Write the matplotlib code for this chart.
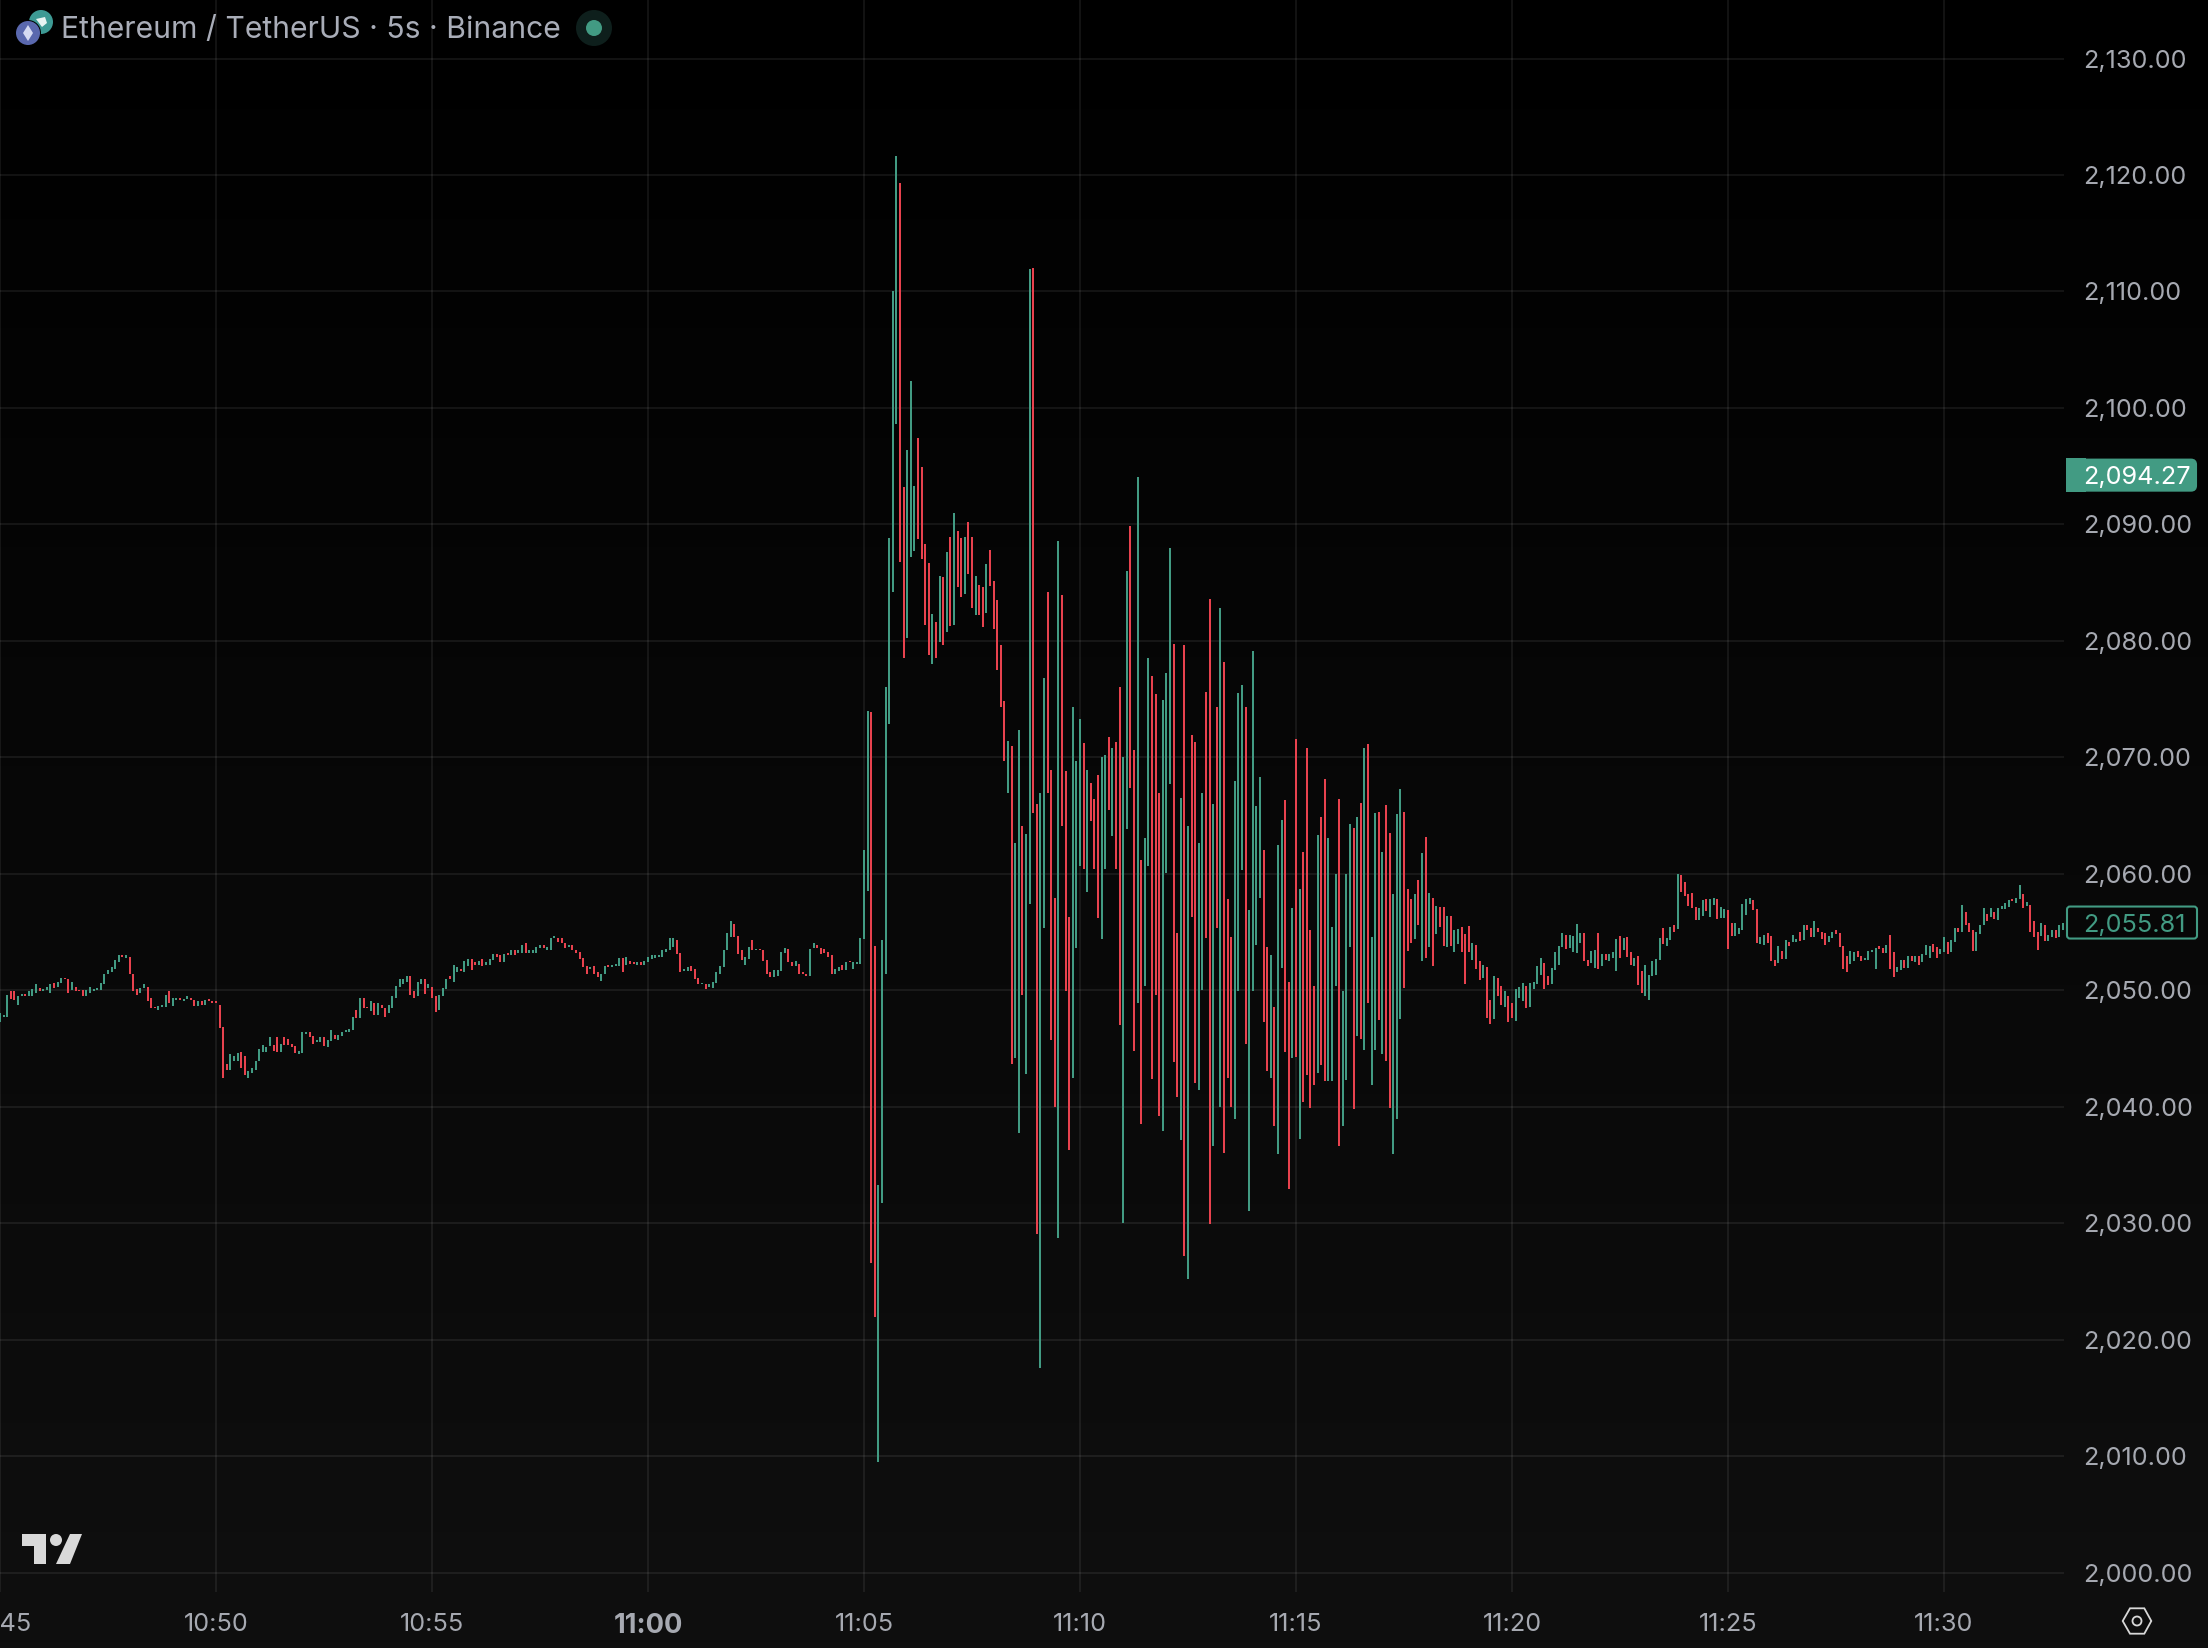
import numpy as np
import matplotlib
matplotlib.use('Agg')
import matplotlib.pyplot as plt
from matplotlib.patches import Circle, Polygon, Rectangle, FancyBboxPatch

plt.rcParams['font.family'] = ['Inter', 'DejaVu Sans']

# candles are (open, close), written as price minus PRICE_BASE
PRICE_BASE = 2000
bars_before = [
(47.31,48.05),(47.74,47.91),(47.74,49.63),(49.89,49.26),(49.89,49.17),(48.77,49.54),(49.54,49.71),(49.71,49.54),(49.54,49.97),(49.54,50.14),
(49.80,50.49),(50.23,49.89),(49.97,50.14),(50.06,50.31),(49.80,50.49),(50.66,50.23),(50.31,50.74),(50.66,51.09),(51.09,50.92),(51.00,49.80),
(50.06,50.74),(50.31,49.89),(50.06,49.89),(50.06,49.54),(49.54,50.06),(49.80,50.31),(49.97,50.14),(50.06,50.23),(50.06,50.66),(50.49,51.43),
(51.35,51.77),(51.52,51.95),(51.86,52.63),(52.46,52.98),(53.06,52.89),(52.80,52.98),(52.89,51.35),(51.43,49.97),(50.14,49.63),(49.80,50.23),
(50.23,50.57),(50.31,49.03),(49.37,48.43),(48.60,48.43),(48.34,48.68),(48.60,48.77),(48.60,49.63),(49.89,48.86),(48.68,49.37),(49.20,49.37),
(49.37,49.20),(49.11,49.28),(49.28,49.46),(49.37,49.20),(49.20,48.68),(48.68,49.03),(49.03,48.77),(48.77,49.20),(49.28,49.11),(49.11,48.94),
(49.11,48.86),(48.77,46.79),(46.88,42.42),(43.70,43.19),(43.19,44.48),(43.96,44.39),(43.88,44.65),(44.73,43.36),(44.39,42.76),(42.42,43.10),
(42.93,43.36),(43.19,43.96),(43.88,44.99),(44.73,45.33),(44.73,45.16),(45.25,46.02),(45.33,44.82),(46.02,44.73),(44.73,45.42),(45.94,45.33),
(45.85,45.33),(45.42,45.08),(45.25,44.65),(44.56,44.82),(44.65,46.37),(46.28,46.45),(46.37,46.02),(46.11,45.42),(45.59,45.76),(45.59,46.02),
(46.02,45.25),(45.08,45.76),(45.68,46.54),(46.19,45.85),(45.76,46.19),(46.11,46.37),(46.45,46.62),(46.45,46.71),(46.62,47.74),(48.34,47.65),
(47.57,49.37),(49.37,48.43),(48.60,48.43),(48.25,49.11),(48.86,47.91),(47.91,48.94),(48.77,48.43),(48.51,47.74),(48.00,48.77),(48.51,49.46),
(49.37,50.40),(50.31,50.92),(50.49,50.92),(50.74,51.26),(51.26,49.63),(49.97,49.37),(49.54,50.74),(50.49,51.00),(51.00,49.71),(50.23,50.49),
(50.31,49.37),(49.46,48.17),(48.34,49.63),(49.54,50.23),(50.14,51.00),(51.26,50.92),(50.74,52.20),(51.52,51.95),(51.86,51.69),(51.60,52.55),
(52.12,52.72),(52.72,51.77),(52.46,52.20),(52.20,52.55),(52.72,52.12),(52.20,52.38),(52.20,52.72),(52.63,53.15),(53.15,52.89),
(52.98,52.38),(52.46,53.15),(53.23,53.06),(53.06,53.41),(53.41,53.06),(53.23,53.41),(53.23,53.84),(54.09,53.23),(53.23,53.41),(53.23,53.41),
(53.23,53.75),(53.66,53.84),(53.84,53.66),(53.49,53.75),(53.49,54.44),(54.52,54.69),(54.52,54.18),(54.52,54.01),(54.09,53.66),(53.75,53.92),
(53.84,53.41),(53.49,53.23),(53.32,52.72),(52.80,51.95),(52.12,51.35),(51.86,52.03),(52.12,51.43),(51.52,51.17),(50.83,51.43),(51.35,52.12),
(52.20,51.95),(52.03,52.20),(52.12,52.29),(52.12,52.80),(52.80,51.60),(52.20,52.89),(52.55,52.29),(52.46,52.29),(52.20,52.38),(52.38,52.20),
(52.20,52.55),(52.46,52.89),(52.72,52.98),(52.80,52.98),(52.89,53.06),(52.89,53.41),(53.32,53.58),(53.41,54.52),(53.75,54.44),(54.35,53.15),
(53.23,51.60),(51.69,51.86),(51.69,52.03),(52.12,51.69),(51.86,51.00),(51.09,50.49),(50.49,50.66),(50.57,50.14),(50.31,50.49),(50.23,50.74),
(50.66,51.52),(51.43,52.12),(52.03,53.49),(53.41,54.95),(54.61,55.90),(55.72,54.61),(54.69,53.15),(53.49,52.63),(52.20,52.89),(52.72,53.75),
(54.35,53.41),(53.41,53.58),(53.58,53.41),(53.49,52.55),(52.63,51.43),(51.52,51.17),(51.17,51.77),(51.26,51.77),(51.69,53.32),(53.23,53.66),
(53.58,52.38),(52.46,52.12),(52.12,52.55),(52.29,51.35),(51.52,51.35),(51.43,51.26),(51.26,53.58),(53.66,54.09),(53.84,53.66),(53.66,53.15),
(53.58,53.23),(53.32,52.89),(52.98,51.35),(51.35,51.86),(51.69,52.03),(52.20,51.77),(51.77,52.46),(52.55,52.38),(51.86,52.46),(52.29,52.46),
(52.29,54.52),
]
bars_spike = [
(54.4,62.0),(58.5,74.0),(73.9,26.6),(53.8,21.9),(9.5,33.3),(31.7,54.3),(51.4,76.0),(72.9,88.8),(84.2,110.0),(98.6,121.6),
(119.3,86.8),(93.2,78.5),(80.2,96.4),(87.2,102.3),(87.7,93.3),(97.4,88.7),(94.9,87.0),(88.3,81.4),(86.7,78.8),(78.0,82.3),
(81.6,78.5),(79.9,85.6),(85.5,79.6),(80.8,87.6),(88.9,81.3),(81.4,91.0),(89.4,84.6),(88.8,83.8),(84.0,88.9),(90.2,85.7),
(88.9,82.8),(82.2,85.6),(84.8,82.2),(84.6,81.2),(82.4,86.6),(87.8,84.7),(85.1,81.0),(83.5,77.5),(79.6,74.3),(74.8,69.7),
(66.9,71.4),(71.0,43.7),(44.2,62.6),(37.7,72.3),(64.1,49.6),(42.8,63.4),(57.4,111.9),(112.0,65.2),(66.0,29.1),(17.6,66.9),
(55.3,76.8),(84.2,66.9),(68.9,45.7),(57.9,40.0),(28.7,88.6),(83.9,64.1),(68.8,49.9),(56.3,36.3),(42.5,74.3),(53.6,69.7),
(60.7,73.3),(71.2,60.4),(58.4,68.9),(67.8,64.5),(66.4,60.4),(68.5,56.2),(54.4,70.0),(60.4,70.2),(71.7,65.5),(63.2,70.8),
(71.3,60.4),(76.0,47.0),(30.0,70.0),(63.8,86.0),(89.9,67.4),(70.6,44.8),(48.9,94.1),(61.2,38.5),(50.4,63.1),(60.7,78.5),
(77.0,42.4),(75.4,49.6),(66.9,39.2),(37.9,74.9),(60.1,77.2),(67.7,88.0),(79.7,43.8),(54.9,40.8),(37.1,66.5),(79.6,27.2),
(25.2,64.1),(71.9,56.3),(71.3,42.0),(41.4,62.6),(50.0,66.9),(75.6,54.5),(83.6,29.9),(36.6,66.0),(74.3,55.3),(40.0,82.8),
(78.2,36.0),(57.8,42.5),(54.6,40.0),(38.9,68.0),(49.9,75.5),
(60.3,76.2),(74.3,45.4),(31.0,56.9),(49.9,79.1),(53.9,65.8),(57.9,68.3),(62.0,47.3),(53.7,43.1),(42.5,53.0),(48.6,38.3),
(35.9,62.5),(51.9,64.6),(66.3,44.7),(50.7,32.9),(44.2,57.1),(71.6,44.3),(37.2,58.7),(61.9,40.4),(70.8,42.7),(55.2,39.9),
(50.4,41.9),(42.9,63.3),(64.9,43.6),(68.1,42.2),(42.2,63.1),(42.2,55.4),(50.4,60.0),(66.4,36.6),(38.3,49.9),(42.3,60.0),
(53.7,64.3),(63.9,39.8),(46.1,64.9),(66.1,45.8),(44.9,70.8),(71.1,48.9),(41.9,54.6),(44.9,65.2),(65.3,47.4),(44.5,61.9),
(65.9,43.9),(63.5,39.9),(35.9,58.3),(38.9,65.1),(47.5,67.3),(65.3,50.2),(58.7,53.4),(57.83,54.07),(54.42,58.26),(59.46,55.61),
]
bars_after = [
(52.54,61.77),(63.13,52.79),(53.73,58.35),(57.92,52.11),(54.84,57.24),(57.15,55.44),(57.15,53.82),(53.73,56.38),(56.38,53.82),(53.30,55.19),
(53.99,55.27),(55.44,53.30),(54.84,50.57),(55.53,53.30),(52.62,54.07),(53.90,51.85),(52.54,50.91),(51.08,52.19),(52.02,47.58),(49.12,47.07),
(47.49,51.25),(51.08,49.54),(50.40,48.69),(48.60,49.89),(49.54,47.24),(48.86,47.58),(47.32,50.14),(49.29,50.31),(49.03,50.66),(50.40,48.43),
(48.52,50.66),(50.14,50.74),(50.57,52.11),(51.34,52.79),(52.36,50.14),(51.25,50.48),(50.57,51.94),(51.77,53.30),(52.19,53.82),(53.73,54.93),
(54.76,53.56),(53.65,54.76),(53.30,54.67),(53.22,55.70),(54.07,54.93),(54.93,52.54),(52.62,52.11),(52.36,53.39),(51.94,53.48),(54.93,51.85),
(52.11,53.13),(53.13,52.62),(52.54,53.13),(52.79,53.30),(51.68,54.42),(54.67,52.79),(53.48,54.50),(54.59,52.88),(53.30,52.19),(52.11,52.79),
(52.96,50.48),(51.68,49.72),(49.54,52.19),(49.20,51.34),(51.25,52.54),(51.34,52.71),(52.62,54.50),(55.36,53.99),(53.82,54.50),(54.33,55.44),
(55.61,55.01),(55.27,59.97),(59.89,58.43),(59.29,58.09),(58.26,57.24),(58.35,57.07),(57.15,56.04),(56.04,57.07),(56.38,57.75),(57.83,56.81),
(56.30,57.83),(57.32,57.92),(57.83,56.13),(56.21,57.15),(56.21,56.98),(56.89,53.56),
(55.81,54.62),(54.62,55.73),(54.79,55.30),(55.13,57.44),(56.50,57.86),(57.44,57.95),(57.78,56.92),(57.01,54.02),(53.93,54.53),(53.85,54.70),
(54.87,54.02),(54.62,52.48),(52.56,52.05),(52.31,53.76),(53.33,52.65),(52.65,54.27),(54.10,53.76),(54.10,54.70),(54.10,54.36),(55.04,54.19),
(54.27,55.64),(55.64,55.21),(55.30,54.53),(54.53,55.90),(55.38,54.96),(55.04,54.36),(54.87,53.85),(54.10,54.62),(54.44,55.04),(55.13,54.79),
(54.87,53.68),(53.76,51.79),(52.91,51.54),(52.22,53.33),(52.48,53.25),(53.33,52.82),(52.91,52.48),(52.56,52.74),(52.56,53.33),(53.25,53.42),
(51.79,53.59),(53.76,53.50),(53.59,53.16),(53.16,53.85),(54.70,51.79),(53.25,51.11),(51.54,51.97),(51.71,52.56),(52.56,51.88),(51.88,52.91),
(52.91,52.48),(52.39,52.91),(52.91,52.14),(52.39,53.08),(52.99,53.85),(52.74,53.76),(53.93,53.25),(53.68,52.74),(53.08,53.50),(53.25,54.53),
(54.10,53.08),(53.25,54.27),(54.10,55.38),(55.38,54.96),(54.96,57.35),(56.75,55.56),(55.73,55.04),(55.13,53.33),(53.33,54.96),(54.79,55.64),
(55.64,57.09),(56.58,55.90),(56.32,57.09),(56.75,56.15),(56.07,57.09),(57.01,57.26),(57.01,57.52),(57.18,57.78),(57.86,57.69),(57.52,57.95),
(57.86,59.06),(58.29,57.09),(57.26,57.61),(57.35,54.96),(55.98,54.53),(54.96,53.42),(54.62,55.73),(55.64,54.19),(54.19,54.70),(54.53,55.21),
(55.21,54.44),(54.53,55.56),(55.21,55.81),
]

price_ticks = [2000, 2010, 2020, 2030, 2040, 2050, 2060, 2070, 2080, 2090, 2100, 2110, 2120, 2130]
time_ticks = [0, 60, 120, 180, 240, 300, 360, 420, 480, 540]  # bars, 5s each
time_labels = ['10:45', '10:50', '10:55', '11:00', '11:05', '11:10', '11:15', '11:20', '11:25', '11:30']
high_price = 2094.27
last_price = 2055.81
title = 'Ethereum / TetherUS · 5s · Binance'

UP = '#429b83'
DOWN = '#e8424e'
TEXT = '#a6a9b1'
W, H = 2208, 1648
PX_PER_BAR = 3.6
PX_PER_USD = 11.646
ZERO_Y = 1572.5   # pixel row of 2,000.00
AXIS_BOTTOM = 1592
AXIS_RIGHT = 2064
LABEL_SIZE = 18.2

fig = plt.figure(figsize=(W / 100, H / 100), dpi=100)

# background gets lighter towards the bottom
bg = fig.add_axes([0, 0, 1, 1], zorder=0)
bg.imshow(np.linspace(0, 15, 256).reshape(-1, 1), cmap='gray', vmin=0, vmax=255, aspect='auto')
bg.axis('off')

ax = fig.add_axes([0, (H - AXIS_BOTTOM) / H, AXIS_RIGHT / W, AXIS_BOTTOM / H], zorder=1)
ax.patch.set_visible(False)
ax.set_xlim(0, AXIS_RIGHT / PX_PER_BAR)
ax.set_ylim(PRICE_BASE - (AXIS_BOTTOM - ZERO_Y) / PX_PER_USD, PRICE_BASE + ZERO_Y / PX_PER_USD)
for s in ax.spines.values():
    s.set_visible(False)

bars = np.array(bars_before + bars_spike + bars_after) + PRICE_BASE
opens, closes = bars[:, 0], bars[:, 1]
colors = [UP if c > o else DOWN for o, c in zip(opens, closes)]
lines = ax.vlines(np.arange(len(bars)), opens, closes, colors=colors, linewidth=1.44, zorder=3)
lines.set_snap(True)

ax.set_axisbelow(True)
ax.grid(True, color='#f2f2f2', alpha=0.075, linewidth=1.44)
ax.yaxis.tick_right()
ax.set_yticks(price_ticks, [f'{p:,.2f}' for p in price_ticks])
ax.set_xticks(time_ticks, time_labels)
ax.tick_params(axis='y', length=0, pad=13.5, labelsize=LABEL_SIZE, labelcolor=TEXT)
ax.tick_params(axis='x', length=0, pad=15, labelsize=LABEL_SIZE, labelcolor=TEXT)
for lab in ax.get_yticklabels():
    lab.set_verticalalignment('center_baseline')
ax.get_xticklabels()[3].set_fontweight('bold')
ax.get_xticklabels()[3].set_fontsize(19.6)

# everything else is placed in pixels
top = fig.add_axes([0, 0, 1, 1], zorder=2)
top.set_xlim(0, W)
top.set_ylim(H, 0)
top.axis('off')


def price_y(p):
    return H - ax.transData.transform((0, p))[1]


# price labels
y = price_y(high_price)
top.add_patch(FancyBboxPatch((2070, y - 15), 126, 31, boxstyle='round,pad=0,rounding_size=5',
                             mutation_aspect=1, fc=UP, ec=UP, lw=1.5))
top.add_patch(Rectangle((2066, y - 16.5), 20, 34, fc=UP, ec='none'))
top.text(2083, y, f'{high_price:,.2f}', color='white', fontsize=LABEL_SIZE, va='center_baseline', ha='left')
y = price_y(last_price)
top.add_patch(FancyBboxPatch((2067, y - 16), 130, 32, boxstyle='round,pad=0,rounding_size=3',
                             fc='#070707', ec=UP, lw=1.5))
top.text(2083, y, f'{last_price:,.2f}', color=UP, fontsize=LABEL_SIZE, va='center_baseline', ha='left')

# legend row
top.text(61, 30, title, color='#a9adb8', fontsize=21.7, va='center', ha='left')
top.add_patch(Circle((594, 28), 18, fc='#0e1f1c', ec='none'))
top.add_patch(Circle((594, 28), 8, fc='#429b83', ec='none'))
top.add_patch(Circle((41, 22), 12, fc='#3d9a94', ec='none'))
top.add_patch(Polygon([(36, 19), (45, 17), (47, 23), (42, 27)], fc='#e8f4f2', ec='none'))
top.add_patch(Circle((28, 33), 13, fc='black', ec='none'))
top.add_patch(Circle((28, 33), 12, fc='#5a68ae', ec='none'))
top.add_patch(Polygon([(28, 25), (33, 33), (28, 41), (23, 33)], fc='#d5daf2', ec='none'))

# watermark
wm = '#d9d9d9'
top.add_patch(Polygon([(22, 1534), (46, 1534), (46, 1564), (34, 1564), (34, 1546), (22, 1546)], fc=wm, ec='none'))
top.add_patch(Circle((56, 1540), 6, fc=wm, ec='none'))
top.add_patch(Polygon([(70, 1534), (82, 1534), (70, 1564), (56, 1564)], fc=wm, ec='none'))

# settings icon
top.add_patch(Polygon([(2122.7, 1621), (2130, 1608.3), (2144.3, 1608.3), (2151.3, 1621), (2144.3, 1633.7), (2130, 1633.7)],
                      fc='none', ec='#d8d8d8', lw=1.3))
top.add_patch(Circle((2137, 1621), 4.5, fc='none', ec='#d8d8d8', lw=1.3))

fig.savefig('out.png', dpi=100)
